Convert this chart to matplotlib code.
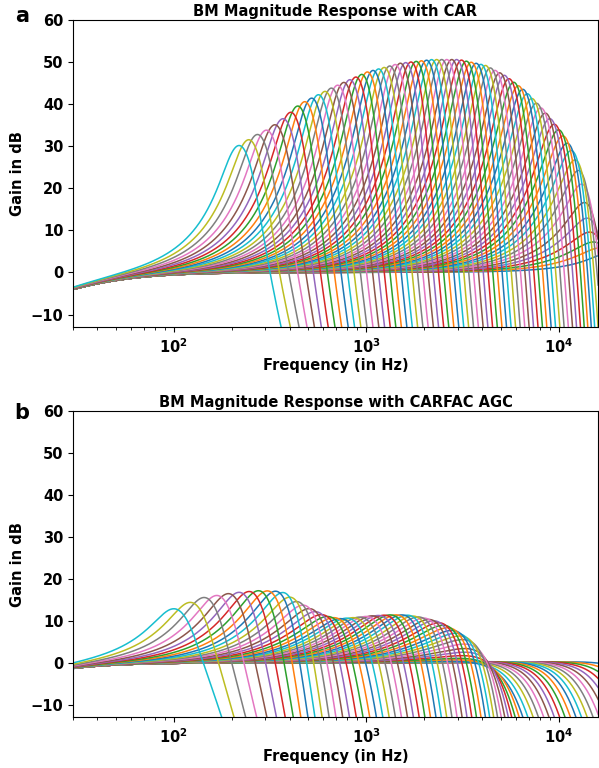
import numpy as np
import matplotlib.pyplot as plt

# ---- values ----
# upper envelope of the channel peaks, panel a (CAR alone)
car_env_hz = [217, 270, 320, 370, 455, 675, 1010, 1500, 2220, 3070, 4240,
              5380, 6830, 8660, 11000, 12800, 14500, 16000, 18000, 21000]
car_env_db = [30.0, 32.6, 34.3, 36.5, 40.0, 44.0, 47.6, 49.7, 50.6, 50.6, 49.2,
              46.8, 43.3, 38.6, 33.0, 28.3, 22.7, 15.0, 8.0, 4.0]

# panel b (CAR with the CARFAC AGC engaged)
agc_env_hz = [100, 138, 205, 282, 372, 455, 557, 675, 826, 1010, 1230, 1500,
              1820, 2220, 2720, 3320, 4040, 4790, 5600, 6600, 20000]
agc_env_db = [13.0, 15.5, 16.7, 17.2, 17.0, 14.7, 12.8, 11.2, 10.5, 10.8, 11.2,
              11.4, 11.4, 10.8, 9.8, 8.0, 6.0, 3.2, 1.2, 0.3, 0.2]

n_channels = 70
car_poles_hz = (19000, 204)    # first / last pole of the cascade
agc_poles_hz = (23000, 100)
car_peak_ratio = 1.09          # channel peak relative to its last pole
agc_peak_ratio = 1.0
car_lowcut_hz = 37             # outer high-pass -> about -4 dB at 30 Hz
agc_lowcut_hz = 18

x_range = (30, 16000)
y_range = (-13, 60)
y_ticks = [-10, 0, 10, 20, 30, 40, 50, 60]


def erb(f):
    return 21.4 * np.log10(1 + 0.00437 * np.asarray(f, dtype=float))


def erb_inv(e):
    return (10 ** (e / 21.4) - 1) / 0.00437


def stage_db(f, fp, zeta):
    # two-pole two-zero CAR stage, zeros sqrt(2) above the poles, unity DC gain
    fz = fp * np.sqrt(2)
    x = f[None, :] / fp[:, None]
    xz = f[None, :] / fz[:, None]
    z = zeta[:, None]
    num = 1 - xz ** 2 + 2j * (z / np.sqrt(2)) * xz
    den = 1 - x ** 2 + 2j * z * x
    return 20 * np.log10(np.abs(num / den))


def cascade(f, poles_hz, env_hz, env_db, peak_ratio, lowcut):
    poles = erb_inv(np.linspace(erb(poles_hz[0]), erb(poles_hz[1]), n_channels))
    target = np.interp(np.log(poles * peak_ratio), np.log(env_hz), env_db)
    zeta = np.full(n_channels, 0.2)
    # tune the damping of each stage so channel peaks follow the envelope
    for _ in range(500):
        resp = np.cumsum(stage_db(f, poles, zeta), axis=0)
        err = resp.max(axis=1) - target
        zeta = np.clip(zeta * np.exp(0.01 * err), 0.05, 0.6)
    resp = np.cumsum(stage_db(f, poles, zeta), axis=0)
    resp += 20 * np.log10(f / np.hypot(f, lowcut))
    return resp


freqs = np.geomspace(20, 24000, 1500)
car_resp = cascade(freqs, car_poles_hz, car_env_hz, car_env_db,
                   car_peak_ratio, car_lowcut_hz)
agc_resp = cascade(freqs, agc_poles_hz, agc_env_hz, agc_env_db,
                   agc_peak_ratio, agc_lowcut_hz)

plt.rcParams['font.weight'] = 'bold'
plt.rcParams['axes.labelweight'] = 'bold'
plt.rcParams['axes.titleweight'] = 'bold'

fig = plt.figure(figsize=(5.99, 7.68), dpi=100)
ax_a = fig.add_axes([0.122, 0.574, 0.876, 0.400])
ax_b = fig.add_axes([0.122, 0.066, 0.876, 0.399])

panels = [(ax_a, car_resp, 'BM Magnitude Response with CAR', 'a', 0.979),
          (ax_b, agc_resp, 'BM Magnitude Response with CARFAC AGC', 'b', 0.462)]

for ax, resp, title, letter, ly in panels:
    for ch in range(n_channels):
        ax.plot(freqs, resp[ch], lw=1.1)
    ax.set_xscale('log')
    ax.set_xlim(*x_range)
    ax.set_ylim(*y_range)
    ax.set_yticks(y_ticks)
    ax.xaxis.set_major_formatter(
        plt.FuncFormatter(lambda v, p: r'$\mathbf{10^{%d}}$' % round(np.log10(v))))
    ax.tick_params(labelsize=10.5)
    ax.set_xlabel('Frequency (in Hz)', fontsize=10.5, labelpad=2)
    ax.set_ylabel('Gain in dB', fontsize=10.5)
    ax.set_title(title, fontsize=10.5, pad=3)
    fig.text(0.037, ly, letter, fontsize=15, fontweight='bold',
             ha='center', va='center')

fig.savefig('out.png', dpi=100)
